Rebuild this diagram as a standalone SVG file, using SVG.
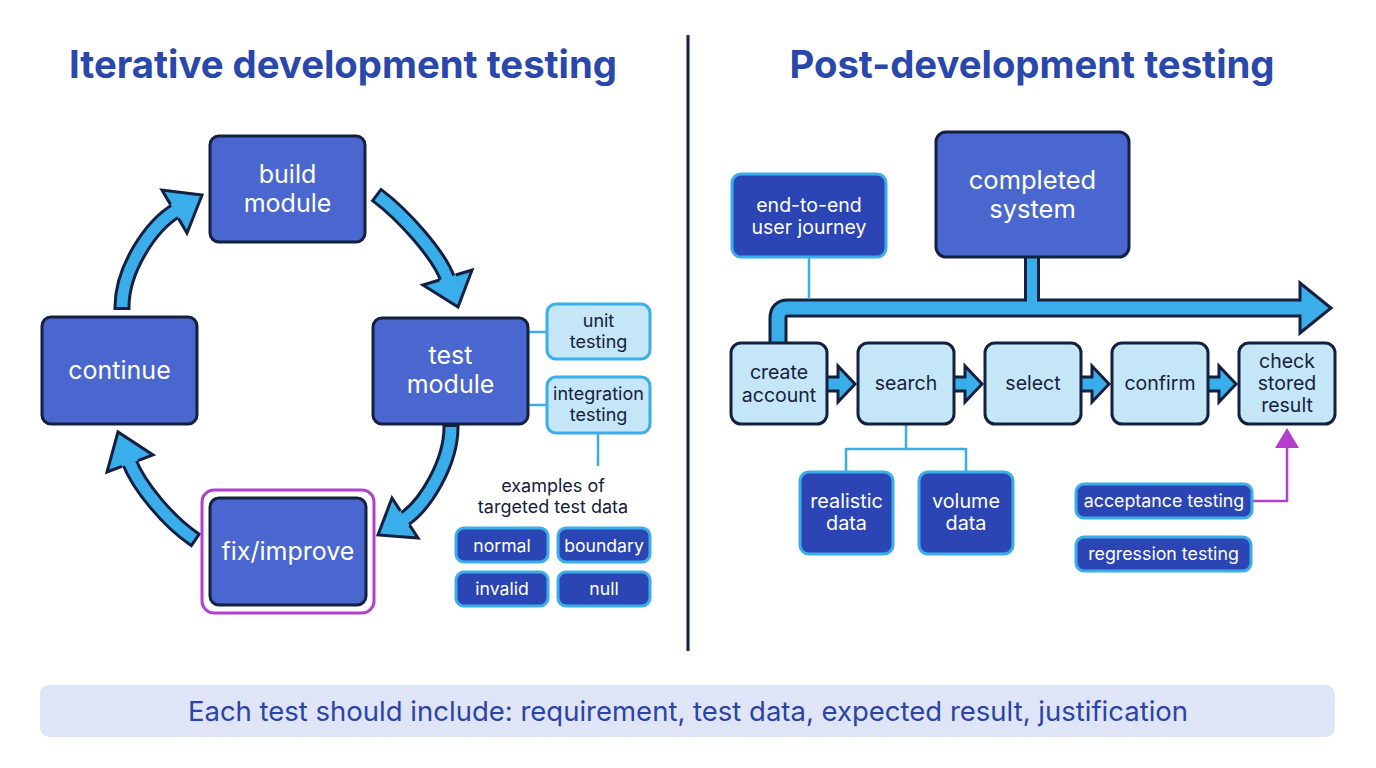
<svg xmlns="http://www.w3.org/2000/svg" width="1376" height="768" viewBox="0 0 1376 768">
<style>
.title{font-family:Inter,"Liberation Sans",sans-serif;font-weight:700;font-size:38.3px;fill:#2a47ab;text-anchor:middle}
.t{font-family:Inter,"Liberation Sans",sans-serif;text-anchor:middle}
.w{fill:#ffffff}
.d{fill:#16213a}
.main{fill:#4a67cf;stroke:#13203f;stroke-width:3}
.lite{fill:#c4e6f7;stroke:#13203f;stroke-width:3}
.lite2{fill:#c4e6f7;stroke:#3aaeea;stroke-width:3}
.dark{fill:#2b45b5;stroke:#3aaeea;stroke-width:3}
.thin{fill:none;stroke:#3aaeea;stroke-width:2.5}
.sd{fill:none;stroke:#13203f;stroke-width:17}
.sl{fill:none;stroke:#3aaeea;stroke-width:11}
.hd{fill:#3aaeea;stroke:#13203f;stroke-width:3;stroke-linejoin:miter}
</style>
<rect width="1376" height="768" fill="#ffffff"/>
<text class="title" x="343" y="78">Iterative development testing</text>
<text class="title" x="1032" y="78">Post-development testing</text>
<line x1="688" y1="35" x2="688" y2="651" stroke="#13203f" stroke-width="3"/>

<g id="connectors">
  <path class="sd" d="M122 310 L122 307 C122 270 150 226 177 210"/>
  <path class="sl" d="M122 307 C122 270 150 226 177 210"/>
  <path class="hd" d="M170.5 204.6 L162 190 L202 195 L187 233 L178.5 218.4"/>

  <path class="sd" d="M375.6 194.2 L378 196 C402 214 439 254 448 280"/>
  <path class="sl" d="M378 196 C402 214 439 254 448 280"/>
  <path class="hd" d="M439.4 280 L423 285 L458 307 L472 270 L455.6 275"/>

  <path class="sd" d="M451 424 L451 427 C451 462 426 505 403 520"/>
  <path class="sl" d="M451 427 C451 462 426 505 403 520"/>
  <path class="hd" d="M400.4 510.9 L392 498 L378 535 L418 538 L409.6 525.1"/>

  <path class="sd" d="M196.5 540.7 L194 539 C169 522 139 487 129 461"/>
  <path class="sl" d="M194 539 C169 522 139 487 129 461"/>
  <path class="hd" d="M122 466.4 L107 472 L118 432 L153 455 L138 460.6"/>

  <line class="thin" x1="528" y1="332" x2="547" y2="332"/>
  <line class="thin" x1="528" y1="405" x2="547" y2="405"/>
  <line class="thin" x1="598" y1="433" x2="598" y2="466"/>

  <path d="M778 344 V318 Q778 308 788 308 H1302" fill="none" stroke="#13203f" stroke-width="19"/>
  <path d="M1032 256 V308" fill="none" stroke="#13203f" stroke-width="16"/>
  <path d="M778 344 V318 Q778 308 788 308 H1302" fill="none" stroke="#3aaeea" stroke-width="13"/>
  <path d="M1032 256 V310" fill="none" stroke="#3aaeea" stroke-width="10"/>
  <path class="hd" d="M1300 301.5 V283 L1331 308 L1300 333 V314.5"/>
  <line class="thin" x1="809" y1="257" x2="809" y2="299"/>

  <path class="hd" d="M827 377 H838 V366 L855 384 L838 402 V391 H827"/>
  <path class="hd" d="M954 377 H965 V366 L982 384 L965 402 V391 H954"/>
  <path class="hd" d="M1081 377 H1092 V366 L1109 384 L1092 402 V391 H1081"/>
  <path class="hd" d="M1208 377 H1219 V366 L1236 384 L1219 402 V391 H1208"/>

  <path class="thin" d="M906 424 V449 M846 449 H966 M846 448 V472 M966 448 V472"/>

  <path d="M1252 501 H1287 V446" fill="none" stroke="#b43fcf" stroke-width="2.5"/>
  <path d="M1275 448 L1287 428 L1299 448 Z" fill="#b43fcf"/>
</g>

<g id="build">
  <rect class="main" x="210" y="136" width="155" height="106" rx="9"/>
  <text class="t w" x="287.5" y="183" font-size="25">build</text>
  <text class="t w" x="287.5" y="212" font-size="25">module</text>
</g>
<g id="continue">
  <rect class="main" x="42" y="317" width="155" height="107" rx="9"/>
  <text class="t w" x="119.5" y="379" font-size="25">continue</text>
</g>
<g id="test">
  <rect class="main" x="373" y="318" width="155" height="106" rx="9"/>
  <text class="t w" x="450.5" y="364" font-size="25">test</text>
  <text class="t w" x="450.5" y="393" font-size="25">module</text>
</g>
<g id="fix">
  <rect x="202" y="490" width="172" height="123" rx="12" fill="none" stroke="#b43fcf" stroke-width="3"/>
  <rect class="main" x="210" y="498" width="156" height="107" rx="9"/>
  <text class="t w" x="288" y="560" font-size="25">fix/improve</text>
</g>
<g id="unit">
  <rect class="lite2" x="547" y="304" width="103" height="55" rx="9"/>
  <text class="t d" x="598.5" y="327" font-size="18">unit</text>
  <text class="t d" x="598.5" y="348" font-size="18">testing</text>
</g>
<g id="integration">
  <rect class="lite2" x="547" y="377" width="103" height="56" rx="9"/>
  <text class="t d" x="598.5" y="400" font-size="18">integration</text>
  <text class="t d" x="598.5" y="421" font-size="18">testing</text>
</g>
<g id="examples">
  <text class="t d" x="553" y="492" font-size="18">examples of</text>
  <text class="t d" x="553" y="513" font-size="18">targeted test data</text>
</g>
<g id="normal">
  <rect class="dark" x="456" y="528" width="92" height="34" rx="8"/>
  <text class="t w" x="502" y="552" font-size="17.6">normal</text>
</g>
<g id="boundary">
  <rect class="dark" x="558" y="528" width="92" height="34" rx="8"/>
  <text class="t w" x="604" y="552" font-size="17.6">boundary</text>
</g>
<g id="invalid">
  <rect class="dark" x="456" y="572" width="92" height="34" rx="8"/>
  <text class="t w" x="502" y="595" font-size="17.6">invalid</text>
</g>
<g id="null">
  <rect class="dark" x="558" y="572" width="92" height="34" rx="8"/>
  <text class="t w" x="604" y="595" font-size="17.6">null</text>
</g>

<g id="endtoend">
  <rect class="dark" x="732" y="174" width="154" height="83" rx="9"/>
  <text class="t w" x="809" y="212" font-size="19.5">end-to-end</text>
  <text class="t w" x="809" y="234" font-size="19.5">user journey</text>
</g>
<g id="completed">
  <rect class="main" x="936" y="132" width="193" height="125" rx="10"/>
  <text class="t w" x="1032.5" y="189" font-size="25.5">completed</text>
  <text class="t w" x="1032.5" y="218" font-size="25.5">system</text>
</g>
<g id="create">
  <rect class="lite" x="731" y="343" width="96" height="81" rx="10"/>
  <text class="t d" x="779" y="379" font-size="19.5">create</text>
  <text class="t d" x="779" y="402" font-size="19.5">account</text>
</g>
<g id="search">
  <rect class="lite" x="858" y="343" width="96" height="81" rx="10"/>
  <text class="t d" x="906" y="390" font-size="19.5">search</text>
</g>
<g id="select">
  <rect class="lite" x="985" y="343" width="96" height="81" rx="10"/>
  <text class="t d" x="1033" y="390" font-size="19.5">select</text>
</g>
<g id="confirm">
  <rect class="lite" x="1112" y="343" width="96" height="81" rx="10"/>
  <text class="t d" x="1160" y="390" font-size="19.5">confirm</text>
</g>
<g id="check">
  <rect class="lite" x="1239" y="343" width="96" height="81" rx="10"/>
  <text class="t d" x="1287" y="368" font-size="19.5">check</text>
  <text class="t d" x="1287" y="390" font-size="19.5">stored</text>
  <text class="t d" x="1287" y="412" font-size="19.5">result</text>
</g>
<g id="realistic">
  <rect class="dark" x="800" y="472" width="93" height="82" rx="9"/>
  <text class="t w" x="846.5" y="508" font-size="19.8">realistic</text>
  <text class="t w" x="846.5" y="530" font-size="19.8">data</text>
</g>
<g id="volume">
  <rect class="dark" x="919" y="472" width="94" height="82" rx="9"/>
  <text class="t w" x="966" y="508" font-size="19.8">volume</text>
  <text class="t w" x="966" y="530" font-size="19.8">data</text>
</g>
<g id="acceptance">
  <rect class="dark" x="1076" y="484" width="176" height="34" rx="8"/>
  <text class="t w" x="1164" y="507" font-size="17.8">acceptance testing</text>
</g>
<g id="regression">
  <rect class="dark" x="1076" y="537" width="175" height="34" rx="8"/>
  <text class="t w" x="1163.5" y="560" font-size="17.8">regression testing</text>
</g>

<g id="banner">
  <rect x="40" y="685" width="1295" height="52" rx="9" fill="#dfe4f7"/>
  <text class="t" x="688" y="721" font-size="27.5" fill="#2a44a8">Each test should include: requirement, test data, expected result, justification</text>
</g>
</svg>
